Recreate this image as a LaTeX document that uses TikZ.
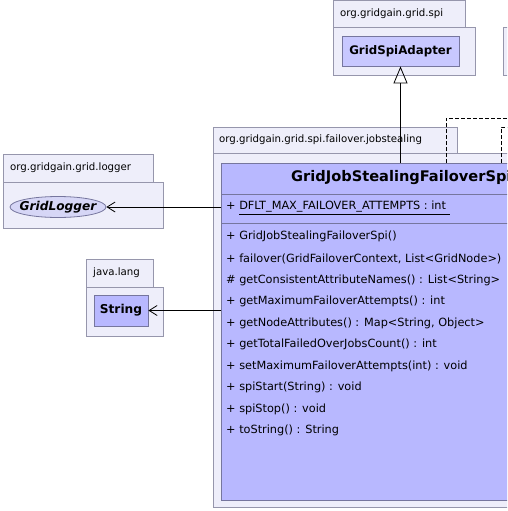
\documentclass[tikz,border=0pt]{standalone}
\usepackage{fontspec}
\setmainfont{DejaVu Sans}
\usetikzlibrary{arrows.meta,positioning,shapes.geometric}

\definecolor{pkgfill}{RGB}{238,238,250}
\definecolor{pkgline}{RGB}{150,150,172}
\definecolor{classfill}{RGB}{184,184,255}
\definecolor{adapterfill}{RGB}{200,200,255}
\definecolor{loggerfill}{RGB}{214,214,246}
\definecolor{classline}{RGB}{118,118,158}

\tikzset{pkg/.style={draw=pkgline,fill=pkgfill,line width=0.8pt},
  pkgname/.style={anchor=west,inner sep=0pt,font=\fontsize{10.2}{12}\selectfont},
  classbox/.style={draw=classline,fill=classfill,line width=0.8pt,inner sep=0pt},
  member/.style={anchor=west,inner sep=0pt,font=\fontsize{11.3}{13}\selectfont},
  uses/.style={line width=0.8pt,-{Straight Barb[length=8pt,width=10pt]}},
  inherit/.style={line width=0.8pt,-{Triangle[open,length=17pt,width=14pt]}},
  realize/.style={line width=0.8pt,dash pattern=on 4pt off 2pt}}

\begin{document}
\begin{tikzpicture}[x=1pt,y=-1pt]
        \useasboundingbox (0,0) rectangle (507,511);
        \clip (0,0) rectangle (507,511);
        % packages
        \draw[pkg] (333,0.5) rectangle (465,27);
        \draw[pkg] (333,27) rectangle (475,75);
        \draw[pkg] (503,27) rectangle (530,75);
        \node[pkgname] (spipkg) at (340,14) {org.gridgain.grid.spi};
        \draw[pkg] (3,154) rectangle (153,182);
        \draw[pkg] (3,182) rectangle (163,228);
        \node[pkgname] (loggerpkg) at (10,168) {org.gridgain.grid.logger};
        \draw[pkg] (86,259) rectangle (153,287);
        \draw[pkg] (86,287) rectangle (163,336);
        \node[pkgname] (langpkg) at (93,273) {java.lang};
        \draw[pkg] (213,127) rectangle (457,153);
        \draw[pkg] (213,153) rectangle (560,507);
        \node[pkgname] (stealpkg) at (219,140) {org.gridgain.grid.spi.failover.jobstealing};
        % classes
        \node[classbox,fill=adapterfill,minimum width=117pt,minimum height=30pt,
              font=\bfseries\fontsize{11.8}{13}\selectfont] (adapter) at (400.5,51) {GridSpiAdapter};
        \node[classbox,ellipse,fill=loggerfill,inner xsep=-7pt,minimum width=96pt,minimum height=21pt,
              font=\bfseries\itshape\fontsize{12.2}{14}\selectfont] (logger) at (58,207) {GridLogger};
        \node[classbox,minimum width=54pt,minimum height=31pt,
              font=\bfseries\fontsize{12.2}{14}\selectfont] (string) at (121,310.5) {String};
        \node[classbox,anchor=north west,minimum width=360pt,minimum height=337pt] (spi) at (221,163) {};
        \node[anchor=west,inner sep=0pt,font=\bfseries\fontsize{14.6}{16}\selectfont] (spiname) at (291,178) {GridJobStealingFailoverSpi};
        \draw[classline,line width=0.8pt] (221,194) -- (581,194);
        \draw[classline,line width=0.8pt] (221,223) -- (581,223);
        \node[member] (dflt) at (226,208) {+ \underline{DFLT\_MAX\_FAILOVER\_ATTEMPTS : int\ }};
        \node[member] (ctor) at (226,236) {+ GridJobStealingFailoverSpi()};
        \foreach \txt [count=\i from 0] in {{+ failover(GridFailoverContext, List<GridNode>)},
            {\#\ getConsistentAttributeNames() : List<String>},
            {+ getMaximumFailoverAttempts() : int},
            {+ getNodeAttributes() : Map<String, Object>},
            {+ getTotalFailedOverJobsCount() : int},
            {+ setMaximumFailoverAttempts(int) : void},
            {+ spiStart(String) : void},
            {+ spiStop() : void},
            {+ toString() : String}}
          \node[member] (op\i) at (226,258.5+21.5*\i) {\txt};
        % relations
        \draw[inherit] (adapter.south |- spi.north) -- (adapter.south);
        \coordinate (real1) at (446,118);
        \coordinate (real2) at (501,127);
        \draw[realize] (spi.north -| real1) -- (real1) -- ++(80,0);
        \draw[realize] (spi.north -| real2) -- (real2) -- ++(30,0);
        \draw[uses] (logger.east -| spi.west) -- (logger.east);
        \draw[uses] (string.east -| spi.west) -- (string.east);
    \end{tikzpicture}
\end{document}
